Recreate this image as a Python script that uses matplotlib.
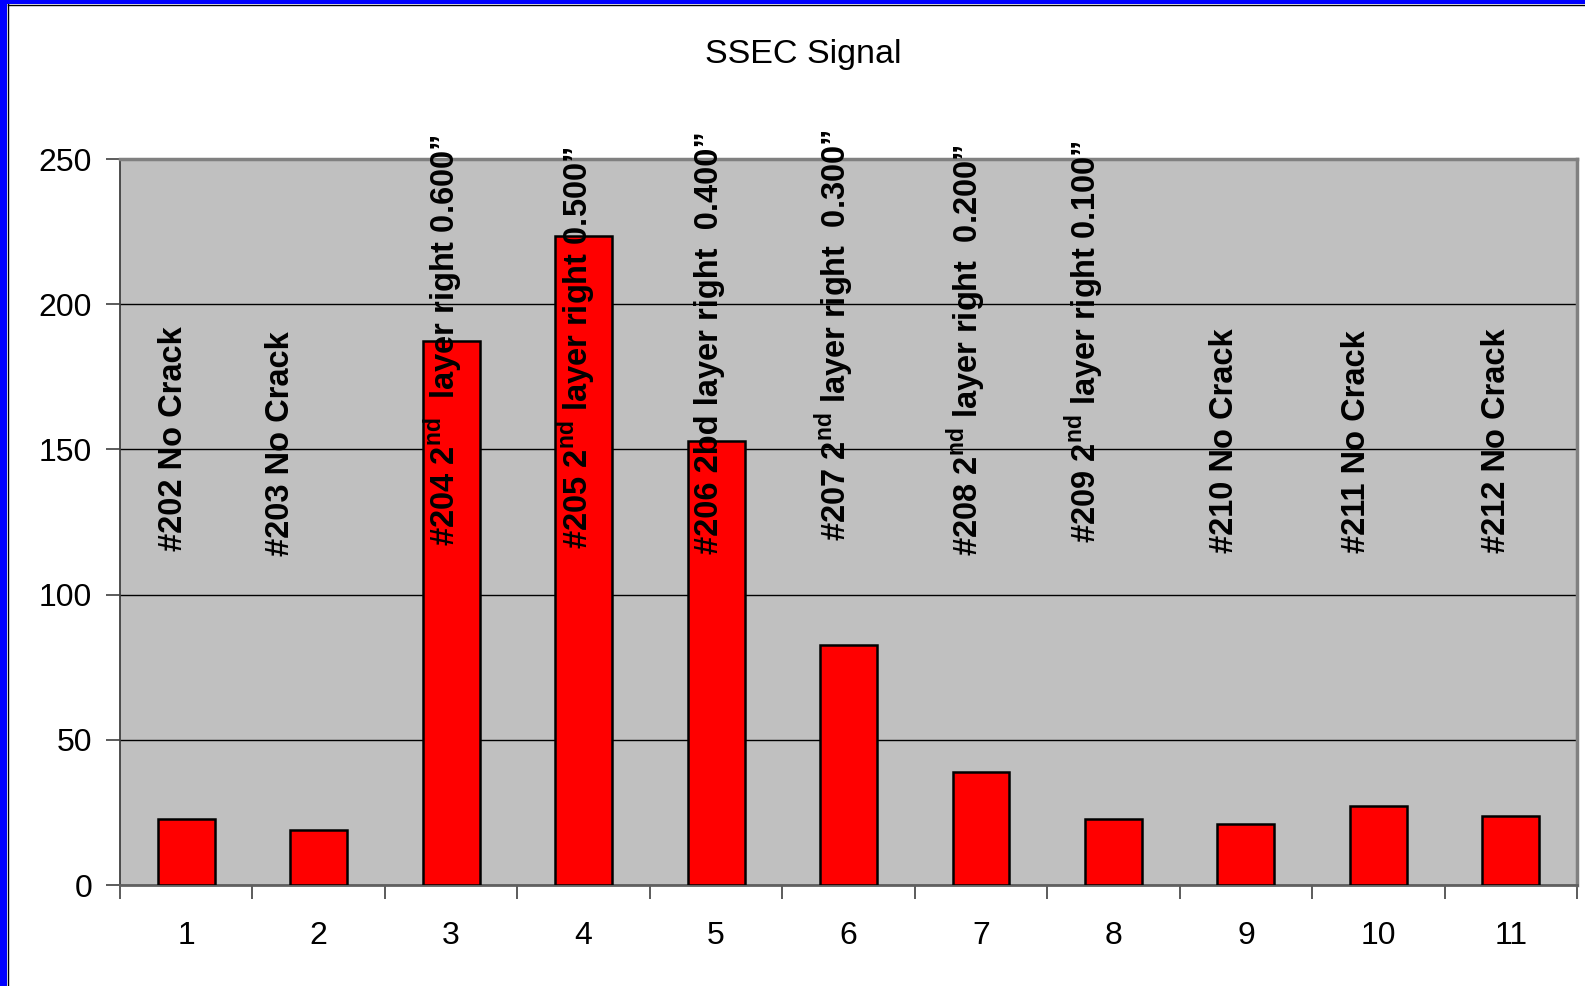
import numpy as np
import matplotlib
matplotlib.use("Agg")
import matplotlib.pyplot as plt
from matplotlib.patches import Rectangle
from matplotlib.ticker import FixedLocator

plt.rcParams['font.family'] = ['Liberation Sans', 'DejaVu Sans']
plt.rcParams['mathtext.fontset'] = 'custom'
plt.rcParams['mathtext.rm'] = 'Liberation Sans'
plt.rcParams['mathtext.bf'] = 'Liberation Sans:bold'

# SSEC signal per sample
positions = np.arange(1, 12)
signal = [22.6, 19.1, 187.3, 223.5, 152.9, 82.5, 39.0, 22.6, 20.9, 27.2, 23.7]

sample_labels = [
    "#202 No Crack",
    "#203 No Crack",
    r"#204 2$^{\mathbf{nd}}$  layer right 0.600”",
    r"#205 2$^{\mathbf{nd}}$ layer right 0.500”",
    "#206 2bd layer right  0.400”",
    r"#207 2$^{\mathbf{nd}}$ layer right  0.300”",
    r"#208 2$^{\mathbf{nd}}$ layer right  0.200”",
    r"#209 2$^{\mathbf{nd}}$ layer right 0.100”",
    "#210 No Crack",
    "#211 No Crack",
    "#212 No Crack",
]
# where each rotated label starts (x in category units, y in data units)
label_x = [0.905, 1.714, 2.944, 3.945, 4.953, 5.893, 6.886, 7.78, 8.842, 9.835, 10.889]
label_y = [114.9, 113.2, 116.6, 115.6, 113.9, 118.4, 113.2, 117.7, 114.2, 114.2, 114.2]

fig = plt.figure(figsize=(15.85, 9.86), dpi=100)
ax = fig.add_axes([0.0757, 0.1024, 0.9193, 0.7363])
ax.set_facecolor('#C0C0C0')

ax.bar(positions, signal, width=0.43, color='#FF0000', edgecolor='black',
       linewidth=1.8, zorder=3)

for x, y, txt in zip(label_x, label_y, sample_labels):
    ax.text(x, y, txt, rotation=90, ha='left', va='center', rotation_mode='anchor',
            fontsize=23.5, fontweight='bold', zorder=4)

ax.set_xlim(0.5, 11.5)
ax.set_ylim(0, 250)
ax.set_yticks([0, 50, 100, 150, 200, 250])
ax.yaxis.grid(True, color='black', linewidth=1.0, zorder=1)
ax.set_axisbelow(True)

# category ticks sit between the bars, labels centred under them
ax.xaxis.set_major_locator(FixedLocator(np.arange(0.5, 12.0, 1.0)))
ax.xaxis.set_major_formatter(plt.NullFormatter())
ax.xaxis.set_minor_locator(FixedLocator(positions))
ax.set_xticklabels([str(p) for p in positions], minor=True)
ax.tick_params(axis='x', which='major', length=10, width=1.2, color='#404040', direction='out')
ax.tick_params(axis='x', which='minor', length=0, pad=26, labelsize=23)
ax.tick_params(axis='y', length=10, width=1.2, color='#404040', direction='out', pad=10, labelsize=23)

ax.spines['left'].set_color('#404040')
ax.spines['left'].set_linewidth(1.3)
ax.spines['bottom'].set_color('#606060')
ax.spines['bottom'].set_linewidth(2.0)
for s in ('top', 'right'):
    ax.spines[s].set_color('#808080')
    ax.spines[s].set_linewidth(2.5)

fig.text(0.507, 0.945, "SSEC Signal", ha='center', va='center', fontsize=24.5)

# slide frame on the left and top edges
fig.patches.append(Rectangle((0, 0), 7 / 1585, 1, transform=fig.transFigure,
                             facecolor='#0000FF', edgecolor='none', zorder=10))
fig.patches.append(Rectangle((0, 1 - 4 / 986), 1, 4 / 986, transform=fig.transFigure,
                             facecolor='#0000FF', edgecolor='none', zorder=10))
fig.lines.append(plt.Line2D([7.5 / 1585, 7.5 / 1585], [0, 1 - 4 / 986], transform=fig.transFigure,
                            color='black', linewidth=1.0))
fig.lines.append(plt.Line2D([7.5 / 1585, 1], [1 - 4.5 / 986, 1 - 4.5 / 986], transform=fig.transFigure,
                            color='black', linewidth=1.0))

fig.savefig('out.png', dpi=100)
